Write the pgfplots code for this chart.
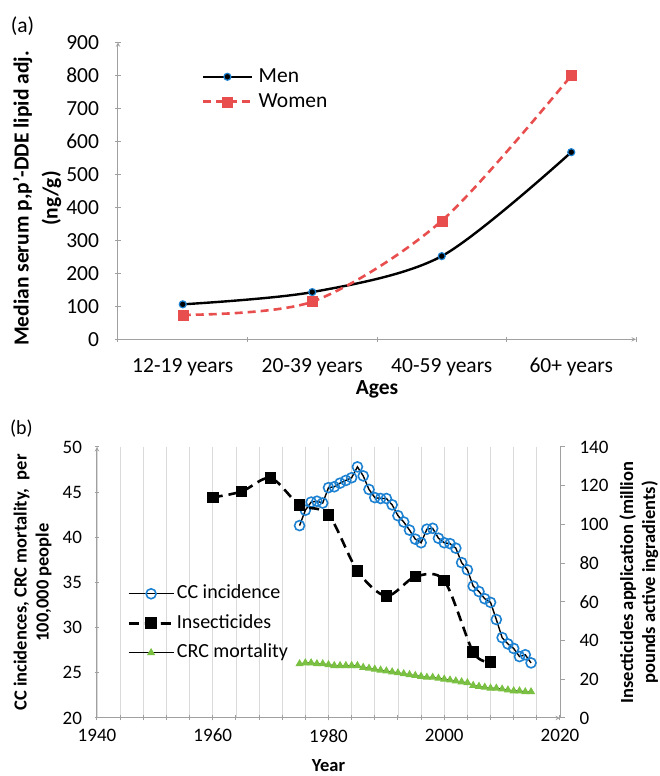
\documentclass[border=0pt]{standalone}
\usepackage{pgfplots}
\pgfplotsset{compat=1.18}
\usepackage{fontspec}
\setmainfont{Carlito}

\definecolor{axisgray}{RGB}{160,160,160}
\definecolor{gridgray}{RGB}{218,218,218}
\definecolor{menblue}{RGB}{30,130,210}
\definecolor{womenred}{RGB}{232,78,78}
\definecolor{ccblue}{RGB}{30,130,210}
\definecolor{crcgreen}{RGB}{122,192,66}

\pgfplotsset{
  every axis/.append style={
    scale only axis,
    axis line style={-, draw=axisgray, line width=1pt},
    tick style={axisgray, line width=1pt},
    tick align=outside,
    major tick length=5pt,
    minor tick length=5pt,
    /pgf/number format/1000 sep={},
    /pgf/number format/assume math mode=true,
  },
}

\begin{document}
\begin{tikzpicture}[x=1pt,y=1pt]
\useasboundingbox (0,0) rectangle (659,776);

\node[font=\fontsize{21.5}{26}\selectfont] at (22.5,750) {(a)};
\node[font=\fontsize{20}{24}\selectfont] at (21.5,347) {(b)};

% ---------- panel (a)
\begin{axis}[
  at={(118pt,436.7pt)}, anchor=south west,
  width=518pt, height=297pt,
  xmin=0.5, xmax=4.5, ymin=0, ymax=900,
  axis x line=bottom, axis y line=left,
  xtick={0.5,1.5,2.5,3.5,4.5},
  x tick label as interval,
  xticklabels={12-19 years,20-39 years,40-59 years,60+ years},
  ytick={0,100,...,900},
  tick label style={font=\fontsize{21.5}{26}\selectfont},
  xticklabel style={yshift=-13pt},
  yticklabel style={xshift=-13pt},
  xlabel={\bfseries Ages},
  ylabel={\bfseries Median serum p,p'-DDE lipid adj.\\\bfseries (ng/g)},
  label style={font=\fontsize{21.5}{29}\selectfont},
  xlabel style={at={(axis description cs:0.5,-0.169)}, anchor=center},
  ylabel style={align=center, at={(axis description cs:-0.156,0.474)}, anchor=center},
  legend style={draw=none, fill=none, at={(0.162,0.920)}, anchor=north west,
    font=\fontsize{21.5}{26}\selectfont, inner sep=0pt, row sep=4pt, column sep=6pt,
    nodes={inner sep=0pt, text height=16pt, text depth=5pt}},
  legend cell align=left,
  legend image code/.code={\draw[mark repeat=2,mark phase=2] plot coordinates {(0pt,0pt) (24pt,0pt) (48pt,0pt)};},
]
\addplot[black, line width=2.4pt, smooth, tension=0.5, mark=*, mark size=3.5pt,
  mark options={solid, fill=black, draw=menblue, line width=1.2pt}]
  coordinates {(1,106) (2,143) (3,252) (4,567)};
\addlegendentry{Men}
\addplot[womenred, line width=2.6pt, dash pattern=on 8pt off 5pt, smooth, tension=0.5,
  mark=square*, mark size=5pt, mark options={solid, fill=womenred, draw=womenred, line width=0.5pt}]
  coordinates {(1,74) (2,114) (3,359) (4,799)};
\addlegendentry{Women}
\end{axis}

% ---------- panel (b), left axis
\begin{axis}[
  at={(97pt,58pt)}, anchor=south west,
  width=463pt, height=271pt,
  xmin=1940, xmax=2020, ymin=20, ymax=50,
  axis x line=bottom, axis y line=left,
  xtick={1940,1960,...,2020},
  minor xtick={1944,1948,...,2016},
  xmajorgrids, xminorgrids,
  major grid style={gridgray, line width=0.8pt},
  minor grid style={gridgray, line width=0.8pt},
  ytick={20,25,...,50},
  tick label style={font=\fontsize{19}{23}\selectfont},
  xticklabel style={yshift=-5pt},
  yticklabel style={xshift=-9pt},
  xlabel={\bfseries Year},
  ylabel={\bfseries CC incidences, CRC mortality,~ per\\\bfseries 100,000 people},
  label style={font=\fontsize{18.5}{22}\selectfont},
  xlabel style={at={(axis description cs:0.5,-0.176)}, anchor=center},
  ylabel style={align=center, at={(axis description cs:-0.139,0.5)}, anchor=center},
]
\addplot[black, line width=1.4pt, mark=o, mark size=5pt,
  mark options={draw=ccblue, line width=1.6pt}]
  coordinates {
  (1975,41.3) (1976,43.0) (1977,43.9) (1978,44.0) (1979,43.8)
  (1980,45.5) (1981,45.6) (1982,46.0) (1983,46.3) (1984,46.6)
  (1985,47.8) (1986,46.8) (1987,45.3) (1988,44.4) (1989,44.3)
  (1990,44.3) (1991,43.6) (1992,42.4) (1993,41.7) (1994,40.8)
  (1995,39.8) (1996,39.4) (1997,40.9) (1998,41.0) (1999,39.9)
  (2000,39.4) (2001,39.3) (2002,38.8) (2003,37.2) (2004,36.4)
  (2005,34.6) (2006,34.0) (2007,33.2) (2008,32.8) (2009,30.9)
  (2010,28.9) (2011,28.2) (2012,27.7) (2013,26.8) (2014,27.0)
  (2015,26.1)};
\addplot[black, line width=1pt, mark=triangle*, mark size=3.8pt,
  mark options={fill=crcgreen, draw=crcgreen}]
  coordinates {
  (1975,26.0) (1976,26.1) (1977,26.1) (1978,26.0) (1979,26.0)
  (1980,25.9) (1981,25.8) (1982,25.8) (1983,25.8) (1984,25.8)
  (1985,25.8) (1986,25.6) (1987,25.5) (1988,25.4) (1989,25.3)
  (1990,25.2) (1991,25.1) (1992,25.0) (1993,24.9) (1994,24.8)
  (1995,24.7) (1996,24.6) (1997,24.5) (1998,24.5) (1999,24.4)
  (2000,24.3) (2001,24.2) (2002,24.1) (2003,24.0) (2004,23.9)
  (2005,23.6) (2006,23.5) (2007,23.4) (2008,23.3) (2009,23.3)
  (2010,23.2) (2011,23.1) (2012,23.0) (2013,23.0) (2014,22.9)
  (2015,22.9)};
\end{axis}

% ---------- panel (b), right axis
\begin{axis}[
  at={(97pt,58pt)}, anchor=south west,
  width=463pt, height=271pt,
  xmin=1940, xmax=2020, ymin=0, ymax=140,
  axis y line*=right, axis x line=none,
  ytick={0,20,...,140},
  tick label style={font=\fontsize{19}{23}\selectfont},
  yticklabel style={xshift=11pt},
  ylabel={\bfseries Insecticides application (million\\\bfseries pounds active ingradients)},
  label style={font=\fontsize{18.5}{22}\selectfont},
  ylabel style={align=center, at={(axis description cs:1.170,0.5)}, anchor=center},
  legend style={draw=none, fill=none, at={(0.065,0.496)}, anchor=north west,
    font=\fontsize{20}{24}\selectfont, inner sep=0pt, row sep=9.5pt, column sep=2pt,
    nodes={inner sep=0pt, text height=15pt, text depth=5pt}},
  legend cell align=left,
  legend image code/.code={\draw[mark repeat=2,mark phase=2] plot coordinates {(0pt,0pt) (22.5pt,0pt) (45pt,0pt)};},
]
\addlegendimage{black, line width=1.4pt, mark=o, mark size=5pt, mark options={draw=ccblue, line width=1.6pt}}
\addlegendentry{CC incidence}
\addplot[black, line width=2.6pt, dash pattern=on 10pt off 6pt, smooth, tension=0.5,
  mark=square*, mark size=4.5pt, mark options={solid, fill=black}]
  coordinates {
  (1960,114) (1965,117) (1970,124) (1975,110) (1980,105) (1985,76)
  (1990,63) (1995,73) (2000,71) (2005,34) (2008,29)};
\addlegendentry{Insecticides}
\addlegendimage{black, line width=1pt, mark=triangle*, mark size=3.8pt, mark options={fill=crcgreen, draw=crcgreen}}
\addlegendentry{CRC mortality}
\end{axis}
\end{tikzpicture}
\end{document}
